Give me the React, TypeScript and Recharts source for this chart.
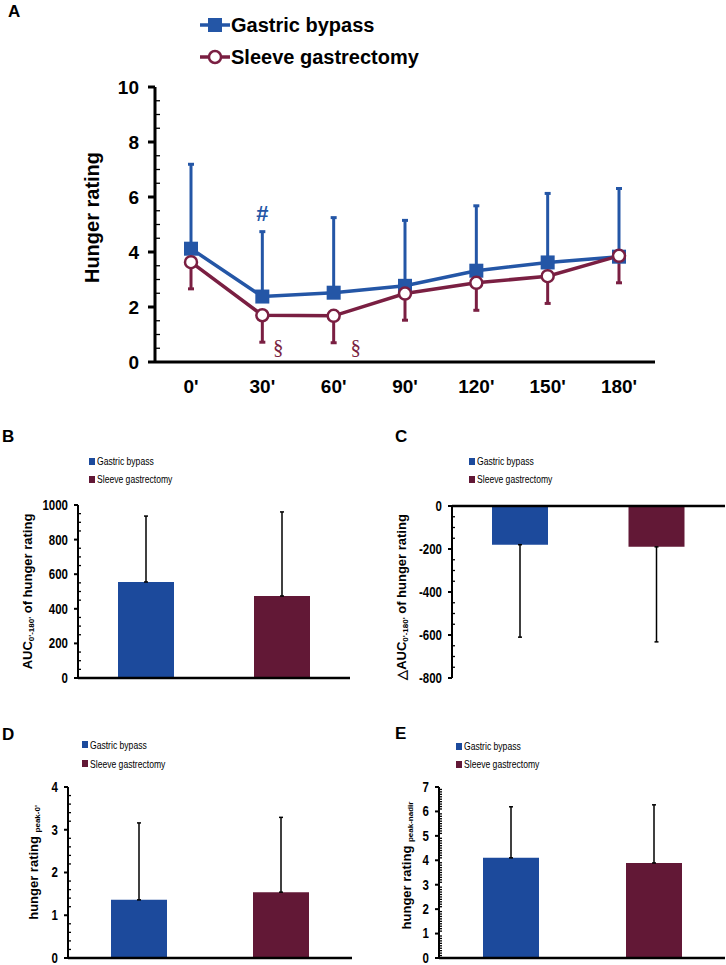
import React from 'react'
import {
  LineChart,
  Line,
  BarChart,
  Bar,
  Cell,
  XAxis,
  YAxis,
  ErrorBar,
  ReferenceDot,
  ReferenceLine,
  Legend,
} from 'recharts'

const SANS = "'Liberation Sans', Arial, sans-serif"
const SERIF = "'Liberation Serif', 'DejaVu Serif', serif"

const BLUE_LINE = '#2456a6'
const MAROON_LINE = '#7a1f42'
const BLUE_BAR = '#1c4a9c'
const MAROON_BAR = '#621836'

const groups = ['Gastric bypass', 'Sleeve gastrectomy']
const barColors = [BLUE_BAR, MAROON_BAR]

// Panel A - hunger rating over time
const timePoints = ["0'", "30'", "60'", "90'", "120'", "150'", "180'"]
const bypassMean = [4.12, 2.38, 2.52, 2.77, 3.32, 3.62, 3.83]
const bypassUpper = [7.19, 4.74, 5.25, 5.15, 5.68, 6.13, 6.31]
const sleeveMean = [3.63, 1.7, 1.68, 2.49, 2.88, 3.12, 3.86]
const sleeveLower = [2.66, 0.72, 0.7, 1.52, 1.88, 2.13, 2.88]
const hungerTicks = [0, 2, 4, 6, 8, 10]
const significance = [
  { x: "30'", y: 5.42, text: '#', color: BLUE_LINE, dx: 0, font: SANS },
  { x: "30'", y: 0.55, text: '§', color: MAROON_LINE, dx: 16, font: SERIF },
  { x: "60'", y: 0.55, text: '§', color: MAROON_LINE, dx: 22, font: SERIF },
]

// Panel B - AUC 0'-180'
const aucMean = [555, 474]
const aucUpper = [936, 960]
const aucTicks = [0, 200, 400, 600, 800, 1000]

// Panel C - delta AUC 0'-180'
const deltaMean = [-180, -190]
const deltaLower = [-610, -632]
const deltaTicks = [-800, -600, -400, -200, 0]

// Panel D - peak minus 0'
const peakMean = [1.36, 1.54]
const peakUpper = [3.16, 3.29]
const peakTicks = [0, 1, 2, 3, 4]

// Panel E - peak minus nadir
const nadirMean = [4.1, 3.89]
const nadirUpper = [6.19, 6.27]
const nadirTicks = [0, 1, 2, 3, 4, 5, 6, 7]

const lineData = timePoints.map((t, i) => ({
  t,
  bypass: bypassMean[i],
  bypassErr: [0, bypassUpper[i] - bypassMean[i]],
  sleeve: sleeveMean[i],
  sleeveErr: [sleeveMean[i] - sleeveLower[i], 0],
}))

function withMinor(majors: number[], step: number) {
  const lo = Math.min(...majors)
  const hi = Math.max(...majors)
  const out: number[] = []
  const n = Math.round((hi - lo) / step)
  for (let i = 0; i <= n; i++) out.push(+(lo + i * step).toFixed(4))
  return out
}

function makeTick(majors: number[], o: { size: number; margin: number; major: number; minor: number; fontSize: number; squeeze: number; width: number }) {
  return (props: any) => {
    const { x, y, payload } = props
    const v = payload.value
    const axisX = x + o.size + o.margin
    const isMajor = majors.some((m) => Math.abs(m - v) < 1e-6)
    if (!isMajor) {
      return <line x1={axisX} x2={axisX + o.minor} y1={y} y2={y} stroke="#000" strokeWidth={1.3} />
    }
    return (
      <g>
        <line x1={axisX - o.major} x2={axisX} y1={y} y2={y} stroke="#000" strokeWidth={o.width} />
        <text
          transform={`translate(${x} ${y}) scale(${o.squeeze} 1)`}
          x={0}
          y={0}
          dy="0.35em"
          textAnchor="end"
          fontFamily={SANS}
          fontWeight="bold"
          fontSize={o.fontSize}
          fill="#000"
        >
          {v}
        </text>
      </g>
    )
  }
}

type Part = { text: string; sub?: boolean }

function makeTitle(parts: Part[], dx: number, dy: number, fontSize: number, subSize: number) {
  return (p: any) => {
    const vb = p.viewBox || { x: 0, y: 0, width: 0, height: 0 }
    const cx = vb.x + dx
    const cy = vb.y + vb.height / 2 + dy
    const shift = subSize * 0.45
    return (
      <text
        x={cx}
        y={cy}
        transform={`rotate(-90 ${cx} ${cy})`}
        textAnchor="middle"
        dominantBaseline="central"
        fontFamily={SANS}
        fontWeight="bold"
        fontSize={fontSize}
        fill="#000"
      >
        {parts.map((part, i) =>
          part.sub ? (
            <tspan key={i} fontSize={subSize} dy={shift}>{part.text}</tspan>
          ) : (
            <tspan key={i} dy={i > 0 && parts[i - 1].sub ? -shift : 0}>{part.text}</tspan>
          )
        )}
      </text>
    )
  }
}

function TimeLegend() {
  const rows = [
    { name: groups[0], color: BLUE_LINE, square: true },
    { name: groups[1], color: MAROON_LINE, square: false },
  ]
  return (
    <div>
      {rows.map((r) => (
        <div key={r.name} style={{ display: 'flex', alignItems: 'center', height: 32 }}>
          <svg width={30} height={20}>
            <line x1={0} x2={30} y1={10} y2={10} stroke={r.color} strokeWidth={3.5} />
            {r.square ? (
              <rect x={8} y={3} width={14} height={14} fill={r.color} />
            ) : (
              <circle cx={15} cy={10} r={6} fill="#fff" stroke={r.color} strokeWidth={2.5} />
            )}
          </svg>
          <span style={{ fontFamily: SANS, fontWeight: 'bold', fontSize: 20, color: '#000', marginLeft: 1 }}>{r.name}</span>
        </div>
      ))}
    </div>
  )
}

function GroupLegend({ rowHeight }: { rowHeight: number }) {
  return (
    <div>
      {groups.map((g, i) => (
        <div key={g} style={{ display: 'flex', alignItems: 'center', height: rowHeight }}>
          <div style={{ width: 6, height: 7, background: barColors[i], marginRight: 2 }} />
          <span
            style={{
              fontFamily: SANS,
              fontSize: 11,
              color: '#000',
              display: 'inline-block',
              whiteSpace: 'nowrap',
              transform: 'scaleX(0.78)',
              transformOrigin: 'left center',
            }}
          >
            {g}
          </span>
        </div>
      ))}
    </div>
  )
}

function SquareDot(p: any) {
  if (p.cx == null || p.cy == null) return <g key={`sq-${p.index}`} />
  return <rect key={`sq-${p.index}`} x={p.cx - 7} y={p.cy - 7} width={14} height={14} fill={BLUE_LINE} />
}

function RingDot(p: any) {
  if (p.cx == null || p.cy == null) return <g key={`ring-${p.index}`} />
  return <circle key={`ring-${p.index}`} cx={p.cx} cy={p.cy} r={6} fill="#fff" stroke={MAROON_LINE} strokeWidth={2.5} />
}

function TimeCourse() {
  const ticks = withMinor(hungerTicks, 0.5)
  return (
    <div style={{ position: 'absolute', left: 0, top: 0 }}>
      <LineChart width={726} height={410} data={lineData} margin={{ top: 87, right: 71, bottom: 18, left: 80 }}>
        <XAxis
          dataKey="t"
          padding={{ left: 36, right: 36 }}
          interval={0}
          tickLine={false}
          axisLine={{ stroke: '#000', strokeWidth: 3 }}
          tick={{ fontFamily: SANS, fontWeight: 'bold', fontSize: 19, fill: '#000' }}
          tickSize={6}
          tickMargin={12}
          height={30}
        />
        <YAxis
          domain={[0, 10]}
          ticks={ticks}
          interval={0}
          width={75}
          tickLine={false}
          tickSize={6}
          tickMargin={10}
          axisLine={{ stroke: '#000', strokeWidth: 3 }}
          tick={makeTick(hungerTicks, { size: 6, margin: 10, major: 7, minor: 5, fontSize: 19, squeeze: 1, width: 3 })}
          label={makeTitle([{ text: 'Hunger rating' }], 12, -7, 20, 12)}
        />
        <Legend
          content={() => <TimeLegend />}
          layout="horizontal"
          verticalAlign="middle"
          align="center"
          wrapperStyle={{ top: 9, left: 200, width: 'auto' }}
        />
        <Line
          dataKey="bypass"
          name={groups[0]}
          stroke={BLUE_LINE}
          strokeWidth={3.5}
          dot={SquareDot}
          activeDot={false}
          isAnimationActive={false}
        >
          <ErrorBar dataKey="bypassErr" width={3} stroke={BLUE_LINE} strokeWidth={3} />
        </Line>
        <Line
          dataKey="sleeve"
          name={groups[1]}
          stroke={MAROON_LINE}
          strokeWidth={3.5}
          dot={RingDot}
          activeDot={false}
          isAnimationActive={false}
        >
          <ErrorBar dataKey="sleeveErr" width={3} stroke={MAROON_LINE} strokeWidth={3} />
        </Line>
        {significance.map((s, i) => (
          <ReferenceDot
            key={i}
            x={s.x}
            y={s.y}
            r={1}
            shape={(p: any) => (
              <text
                x={p.cx + s.dx}
                y={p.cy}
                dy="0.35em"
                textAnchor="middle"
                fontFamily={s.font}
                fontWeight={s.text === '#' ? 'bold' : 'normal'}
                fontSize={s.text === '#' ? 22 : 21}
                fill={s.color}
              >
                {s.text}
              </text>
            )}
          />
        ))}
      </LineChart>
    </div>
  )
}

type BarPanelProps = {
  box: { left: number; top: number; width: number; height: number }
  margin: { top: number; right: number; bottom: number; left: number }
  yWidth: number
  means: number[]
  errs: number[][]
  majors: number[]
  minorStep: number
  title: Part[]
  titleDx: number
  titleDy: number
  legendPos: { top: number; left: number }
  legendRow: number
}

function BarPanel(p: BarPanelProps) {
  const data = groups.map((g, i) => ({ name: g, value: p.means[i], err: p.errs[i] }))
  const lo = Math.min(...p.majors)
  const hi = Math.max(...p.majors)
  return (
    <div style={{ position: 'absolute', left: p.box.left, top: p.box.top }}>
      <BarChart width={p.box.width} height={p.box.height} data={data} margin={p.margin}>
        <XAxis dataKey="name" hide />
        <YAxis
          domain={[lo, hi]}
          ticks={withMinor(p.majors, p.minorStep)}
          interval={0}
          width={p.yWidth}
          tickLine={false}
          tickSize={5}
          tickMargin={5}
          axisLine={{ stroke: '#000', strokeWidth: 2 }}
          tick={makeTick(p.majors, { size: 5, margin: 5, major: 4, minor: 3, fontSize: 14, squeeze: 0.82, width: 2 })}
          label={makeTitle(p.title, p.titleDx, p.titleDy, 13, 8)}
        />
        <Legend
          content={() => <GroupLegend rowHeight={p.legendRow} />}
          layout="horizontal"
          verticalAlign="middle"
          align="center"
          wrapperStyle={{ top: p.legendPos.top, left: p.legendPos.left, width: 'auto' }}
        />
        <Bar dataKey="value" barSize={56} isAnimationActive={false}>
          {data.map((d, i) => (
            <Cell key={d.name} fill={barColors[i]} />
          ))}
          <ErrorBar dataKey="err" width={2} stroke="#000" strokeWidth={1.5} />
        </Bar>
        <ReferenceLine y={0} stroke="#000" strokeWidth={2.5} />
      </BarChart>
    </div>
  )
}

const letterStyle: React.CSSProperties = {
  position: 'absolute',
  fontFamily: SANS,
  fontWeight: 'bold',
  fontSize: 17,
  lineHeight: '17px',
  color: '#000',
}

export default function App() {
  return (
    <div style={{ position: 'absolute', left: 0, top: 0, width: 726, height: 965, background: '#fff', overflow: 'hidden' }}>
      <TimeCourse />
      <BarPanel
        box={{ left: 0, top: 400, width: 363, height: 290 }}
        margin={{ top: 105, right: 13, bottom: 12, left: 18 }}
        yWidth={60}
        means={aucMean}
        errs={aucMean.map((m, i) => [0, aucUpper[i] - m])}
        majors={aucTicks}
        minorStep={50}
        title={[{ text: 'AUC' }, { text: "0'-180'", sub: true }, { text: ' of hunger rating' }]}
        titleDx={9}
        titleDy={0}
        legendPos={{ top: 52, left: 89 }}
        legendRow={18}
      />
      <BarPanel
        box={{ left: 363, top: 400, width: 363, height: 290 }}
        margin={{ top: 106, right: 1, bottom: 12, left: 29 }}
        yWidth={60}
        means={deltaMean}
        errs={deltaMean.map((m, i) => [m - deltaLower[i], 0])}
        majors={deltaTicks}
        minorStep={50}
        title={[{ text: '△AUC' }, { text: "0'-180'", sub: true }, { text: ' of hunger rating' }]}
        titleDx={9}
        titleDy={5}
        legendPos={{ top: 52, left: 106 }}
        legendRow={18}
      />
      <BarPanel
        box={{ left: 0, top: 700, width: 363, height: 265 }}
        margin={{ top: 87, right: 11, bottom: 7, left: 18 }}
        yWidth={50}
        means={peakMean}
        errs={peakMean.map((m, i) => [0, peakUpper[i] - m])}
        majors={peakTicks}
        minorStep={0.2}
        title={[{ text: 'hunger rating ' }, { text: "peak-0'", sub: true }]}
        titleDx={15}
        titleDy={-10}
        legendPos={{ top: 35, left: 82 }}
        legendRow={19}
      />
      <BarPanel
        box={{ left: 363, top: 700, width: 363, height: 265 }}
        margin={{ top: 87, right: 1, bottom: 7, left: 26 }}
        yWidth={50}
        means={nadirMean}
        errs={nadirMean.map((m, i) => [0, nadirUpper[i] - m])}
        majors={nadirTicks}
        minorStep={0.1}
        title={[{ text: 'hunger rating ' }, { text: 'peak-nadir', sub: true }]}
        titleDx={17}
        titleDy={-7}
        legendPos={{ top: 37, left: 93 }}
        legendRow={18}
      />
      <div style={{ ...letterStyle, left: 8, top: 3 }}>A</div>
      <div style={{ ...letterStyle, left: 2, top: 428 }}>B</div>
      <div style={{ ...letterStyle, left: 395, top: 428 }}>C</div>
      <div style={{ ...letterStyle, left: 2, top: 726 }}>D</div>
      <div style={{ ...letterStyle, left: 395, top: 725 }}>E</div>
    </div>
  )
}
